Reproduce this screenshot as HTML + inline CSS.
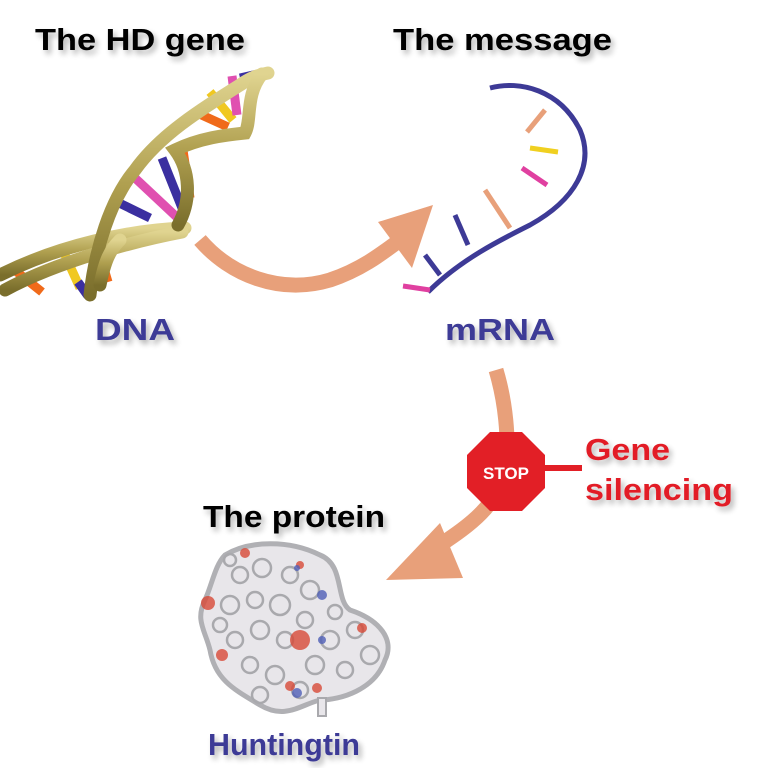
<!DOCTYPE html>
<html><head><style>
html,body{margin:0;padding:0;background:#fff;}
svg{display:block;}
text{font-family:"Liberation Sans",Arial,sans-serif;font-weight:bold;}
</style></head><body>
<svg width="768" height="768" viewBox="0 0 768 768" xmlns="http://www.w3.org/2000/svg">
<defs>
<filter id="sh" x="-10%" y="-10%" width="130%" height="140%"><feGaussianBlur in="SourceAlpha" stdDeviation="3"/><feOffset dx="3" dy="4"/><feComponentTransfer><feFuncA type="linear" slope="0.3"/></feComponentTransfer><feMerge><feMergeNode/><feMergeNode in="SourceGraphic"/></feMerge></filter>
<linearGradient id="gold" x1="0" y1="0" x2="0" y2="1"><stop offset="0" stop-color="#e0d490"/><stop offset="0.5" stop-color="#b0a050"/><stop offset="1" stop-color="#7a6e2c"/></linearGradient>
</defs>

<g filter="url(#sh)">
<text x="35" y="50" font-size="31" fill="#000" textLength="210" lengthAdjust="spacingAndGlyphs">The HD gene</text>
<text x="393" y="50" font-size="31" fill="#000" textLength="219" lengthAdjust="spacingAndGlyphs">The message</text>
<text x="203" y="527" font-size="31" fill="#000" textLength="182" lengthAdjust="spacingAndGlyphs">The protein</text>
<text x="95" y="340" font-size="31" fill="#3d3a96" textLength="80" lengthAdjust="spacingAndGlyphs">DNA</text>
<text x="445" y="340" font-size="31" fill="#3d3a96" textLength="110" lengthAdjust="spacingAndGlyphs">mRNA</text>
<text x="208" y="755" font-size="31" fill="#3d3a96" textLength="152" lengthAdjust="spacingAndGlyphs">Huntingtin</text>
<text x="585" y="460" font-size="31" fill="#e21f26" textLength="85" lengthAdjust="spacingAndGlyphs">Gene</text>
<text x="585" y="500" font-size="31" fill="#e21f26" textLength="148" lengthAdjust="spacingAndGlyphs">silencing</text>
</g>

<!-- DNA base pairs -->
<g stroke-width="9" stroke-linecap="butt">
<line x1="12" y1="268" x2="42" y2="292" stroke="#f06a1a"/>
<line x1="65" y1="255" x2="80" y2="288" stroke="#f0c820"/>
<line x1="78" y1="282" x2="88" y2="296" stroke="#3b2fa0"/>
<line x1="100" y1="255" x2="108" y2="282" stroke="#f06a1a"/>
<line x1="113" y1="200" x2="150" y2="218" stroke="#3b2fa0"/>
<line x1="135" y1="178" x2="182" y2="222" stroke="#e050b0"/>
<line x1="162" y1="158" x2="182" y2="208" stroke="#3b2fa0"/>
<line x1="183" y1="150" x2="190" y2="198" stroke="#f06a1a"/>
<line x1="195" y1="112" x2="228" y2="127" stroke="#f06a1a"/>
<line x1="210" y1="92" x2="233" y2="120" stroke="#f0c820"/>
<line x1="232" y1="76" x2="237" y2="115" stroke="#e050b0"/>
<line x1="240" y1="78" x2="258" y2="74" stroke="#3b2fa0"/>
</g>
<!-- DNA backbone ribbons -->
<g fill="none" stroke="url(#gold)" stroke-width="13" stroke-linecap="round">
<path d="M0,275 C60,245 130,230 185,228"/>
<path d="M5,290 C60,260 140,240 182,232"/>
<path d="M90,295 C95,250 110,200 135,170 C160,135 200,110 240,85 C250,78 258,75 268,73"/>
<path d="M178,225 C192,200 190,170 175,150 C200,138 225,135 245,133 C252,120 245,95 262,74"/>
<path d="M100,285 C105,260 110,250 120,240"/>
</g>

<!-- arrow DNA -> mRNA -->
<path d="M200,240 C230,275 280,295 330,280 C360,270 380,255 400,240" fill="none" stroke="#e8a07a" stroke-width="15"/>
<polygon points="433,205 378,222 412,268" fill="#e8a07a"/>

<!-- mRNA -->
<path d="M490,88 C520,80 560,90 580,130 C595,165 575,200 530,225 C500,240 460,260 428,292" fill="none" stroke="#3d3a96" stroke-width="5"/>
<g stroke-width="5">
<line x1="545" y1="110" x2="527" y2="132" stroke="#e8a07a"/>
<line x1="558" y1="152" x2="530" y2="148" stroke="#f0d020"/>
<line x1="547" y1="185" x2="522" y2="168" stroke="#e040a0"/>
<line x1="510" y1="228" x2="485" y2="190" stroke="#e8a07a"/>
<line x1="468" y1="245" x2="455" y2="215" stroke="#3d3a96"/>
<line x1="440" y1="275" x2="425" y2="255" stroke="#3d3a96"/>
<line x1="430" y1="290" x2="403" y2="286" stroke="#e040a0"/>
</g>

<!-- arrow mRNA -> protein -->
<path d="M496,370 C505,400 510,440 505,470 C498,505 470,525 440,545" fill="none" stroke="#e8a07a" stroke-width="15"/>
<polygon points="386,580 440,523 463,578" fill="#e8a07a"/>

<!-- stop sign -->
<line x1="540" y1="468" x2="582" y2="468" stroke="#e21f26" stroke-width="6"/>
<polygon points="490,432 522,432 545,455 545,488 522,511 490,511 467,488 467,455" fill="#e21f26"/>
<text x="506" y="479" font-size="17" fill="#fff" text-anchor="middle">STOP</text>

<!-- protein -->
<g>
<path d="M225,555 C250,540 290,540 320,555 C345,565 335,600 350,610 C380,620 395,640 385,660 C375,690 340,700 320,700 C300,705 285,720 260,705 C235,690 215,680 210,650 C205,630 195,620 205,600 C212,585 215,565 225,555 Z" fill="#e8e6ea" stroke="#b0b0b4" stroke-width="5"/>
<g fill="none" stroke="#a9a9ad" stroke-width="2.5">
<circle cx="240" cy="575" r="8"/><circle cx="262" cy="568" r="9"/><circle cx="290" cy="575" r="8"/><circle cx="310" cy="590" r="9"/>
<circle cx="230" cy="605" r="9"/><circle cx="255" cy="600" r="8"/><circle cx="280" cy="605" r="10"/><circle cx="305" cy="620" r="8"/>
<circle cx="235" cy="640" r="8"/><circle cx="260" cy="630" r="9"/><circle cx="285" cy="640" r="8"/><circle cx="330" cy="640" r="9"/>
<circle cx="355" cy="630" r="8"/><circle cx="370" cy="655" r="9"/><circle cx="345" cy="670" r="8"/><circle cx="315" cy="665" r="9"/>
<circle cx="250" cy="665" r="8"/><circle cx="275" cy="675" r="9"/><circle cx="300" cy="690" r="8"/><circle cx="260" cy="695" r="8"/>
<circle cx="220" cy="625" r="7"/><circle cx="335" cy="612" r="7"/><circle cx="230" cy="560" r="6"/>
</g>
<g fill="#d84a38" opacity="0.8">
<circle cx="208" cy="603" r="7"/><circle cx="300" cy="640" r="10"/><circle cx="222" cy="655" r="6"/><circle cx="245" cy="553" r="5"/>
<circle cx="362" cy="628" r="5"/><circle cx="317" cy="688" r="5"/><circle cx="290" cy="686" r="5"/><circle cx="300" cy="565" r="4"/>
</g>
<g fill="#5060b8" opacity="0.8">
<circle cx="322" cy="595" r="5"/><circle cx="297" cy="693" r="5"/><circle cx="322" cy="710" r="4"/><circle cx="297" cy="568" r="3"/><circle cx="322" cy="640" r="4"/>
</g>
<rect x="318" y="698" width="8" height="18" fill="#e8e6ea" stroke="#a9a9ad" stroke-width="2"/>
</g>
</svg>
</body></html>
